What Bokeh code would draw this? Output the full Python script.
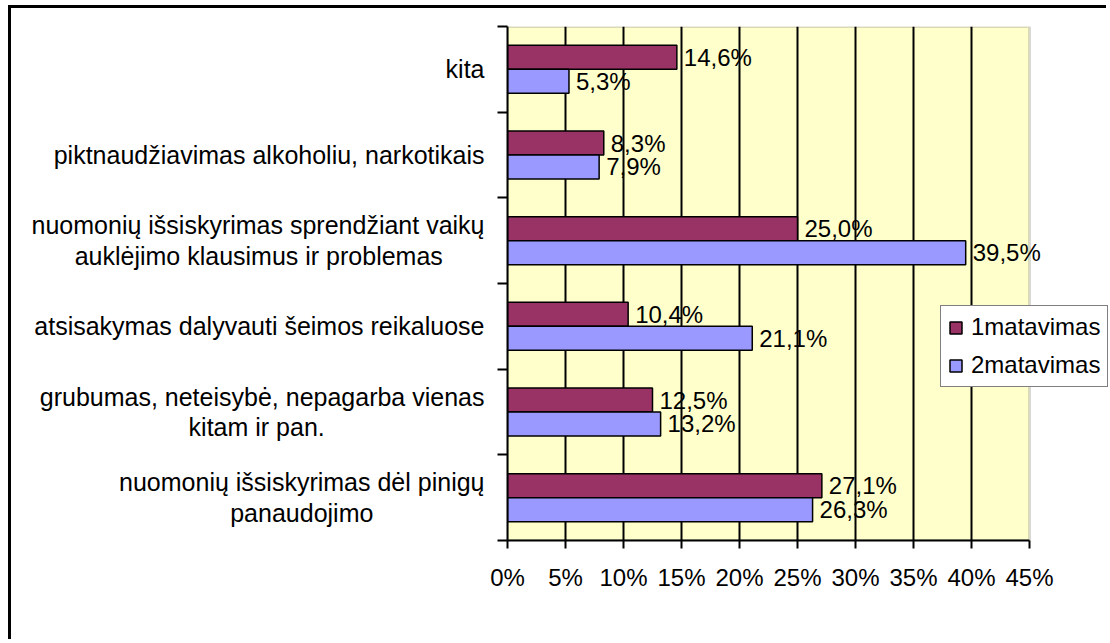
from bokeh.plotting import figure
from bokeh.models import (Range1d, FixedTicker, ColumnDataSource, LabelSet,
                          Legend, LegendItem, LinearAxis, BoxAnnotation)
from bokeh.core.properties import value
from bokeh.embed import file_html
from bokeh.resources import INLINE

# ---- data (top to bottom as in the chart) ----
categories = [
    ["kita"],
    ["piktnaudžiavimas alkoholiu, narkotikais"],
    ["nuomonių išsiskyrimas sprendžiant vaikų", "auklėjimo klausimus ir problemas"],
    ["atsisakymas dalyvauti šeimos reikaluose"],
    ["grubumas, neteisybė, nepagarba vienas", "kitam ir pan."],
    ["nuomonių išsiskyrimas dėl pinigų", "panaudojimo"],
]
series_names = ["1matavimas", "2matavimas"]
m1 = [14.6, 8.3, 25.0, 10.4, 12.5, 27.1]
m2 = [5.3, 7.9, 39.5, 21.1, 13.2, 26.3]
x_ticks = [0, 5, 10, 15, 20, 25, 30, 35, 40, 45]
x_tick_labels = ["0%", "5%", "10%", "15%", "20%", "25%", "30%", "35%", "40%", "45%"]

# ---- style / layout ----
FONT = "Liberation Sans"
FS = "24px"
CAT_FS = "25px"
C1 = "#993366"
C2 = "#9999FF"
OX, OY = 11, 8              # figure origin on the page (margin + border)
W, H = 1098, 634
FL = 507 - OX               # plot area left
FT = 26 - OY                # plot area top
PR = 1029 - OX              # plot area right (45 %)
PB = 540 - OY               # plot area bottom
FB = H - PB
x_max = x_ticks[-1]
px_per_unit = (PR - FL) / x_max
x_end = (W - FL) / px_per_unit
n = len(categories)
bar_h = 0.28

# second lines of wrapped labels are centred under the first line:
# pad them on the right with no-break spaces (count per label)
second_line_pad = [0, 0, 6, 0, 23, 16]
NBSP = "\u00a0"
cat_text = []
for lines, pad in zip(categories, second_line_pad):
    if len(lines) == 1:
        cat_text.append(lines[0])
    else:
        cat_text.append(lines[0] + "\n" + lines[1] + NBSP * pad)

ypos = [n - i - 0.5 for i in range(n)]
y1 = [y + bar_h / 2 for y in ypos]
y2 = [y - bar_h / 2 for y in ypos]

fmt = lambda v: ("%.1f" % v).replace(".", ",") + "%"
src1 = ColumnDataSource(dict(y=y1, v=m1, t=[fmt(v) for v in m1]))
src2 = ColumnDataSource(dict(y=y2, v=m2, t=[fmt(v) for v in m2]))

p = figure(width=W, height=H, output_backend="svg", toolbar_location=None,
           x_range=Range1d(0, x_end), y_range=Range1d(0, n),
           min_border_left=FL, min_border_top=FT, min_border_right=0,
           min_border_bottom=FB)
p.styles = {"margin-left": "8px", "margin-top": "5px",
            "border-left": "3px solid #000", "border-top": "3px solid #000"}
p.background_fill_color = "white"
p.border_fill_color = "white"
p.outline_line_color = None

# yellow plot area with gray border
p.add_layout(BoxAnnotation(left=0, right=x_max, fill_color="#FFFFCC", fill_alpha=1,
                           line_color="#808080", line_width=3, level="image"))

p.xgrid.ticker = FixedTicker(ticks=x_ticks[1:-1])
p.xgrid.grid_line_color = "black"
p.xgrid.grid_line_width = 2
p.ygrid.grid_line_color = None

r1 = p.hbar(y="y", right="v", left=0, height=bar_h, source=src1,
            fill_color=C1, line_color="black", line_width=1.5)
r2 = p.hbar(y="y", right="v", left=0, height=bar_h, source=src2,
            fill_color=C2, line_color="black", line_width=1.5)

for src in (src1, src2):
    p.add_layout(LabelSet(x="v", y="y", text="t", source=src, x_offset=7,
                          text_baseline="middle", text_align="left",
                          text_font=value(FONT), text_font_size=value(FS),
                          text_color="black"))

# x axis
xa = p.xaxis[0]
xa.ticker = FixedTicker(ticks=x_ticks)
xa.bounds = (0, x_max)
xa.major_label_overrides = {t: l for t, l in zip(x_ticks, x_tick_labels)}
xa.minor_tick_line_color = None
xa.major_tick_in = 0
xa.major_tick_out = 8
xa.major_tick_line_width = 2
xa.axis_line_width = 2
xa.axis_line_color = "black"
xa.major_label_text_font = FONT
xa.major_label_text_font_size = FS
xa.major_label_text_color = "black"
xa.major_label_standoff = 15

# y axis (ticks at category boundaries, no labels)
ya = p.yaxis[0]
ya.ticker = FixedTicker(ticks=list(range(n + 1)))
ya.major_label_text_font_size = "0px"
ya.major_label_text_color = None
ya.major_label_standoff = 0
ya.minor_tick_line_color = None
ya.major_tick_in = 0
ya.major_tick_out = 10
ya.major_tick_line_width = 2
ya.axis_line_width = 2
ya.axis_line_color = "black"

# category labels axis
ca = LinearAxis(ticker=FixedTicker(ticks=ypos),
                major_label_overrides={y: c for y, c in zip(ypos, cat_text)})
ca.axis_line_color = None
ca.major_tick_line_color = None
ca.minor_tick_line_color = None
ca.major_tick_in = 0
ca.major_tick_out = 0
ca.major_label_standoff = 13
ca.major_label_text_font = FONT
ca.major_label_text_font_size = CAT_FS
ca.major_label_text_color = "black"
ca.major_label_text_line_height = 1.1
p.add_layout(ca, "left")

legend = Legend(items=[LegendItem(label=series_names[0], renderers=[r1]),
                       LegendItem(label=series_names[1], renderers=[r2])],
                location=(433, 153), orientation="vertical")
legend.label_text_font = FONT
legend.label_text_font_size = FS
legend.label_text_color = "black"
legend.glyph_width = 15
legend.glyph_height = 15
legend.label_standoff = 8
legend.padding = 7
legend.spacing = 10
legend.margin = 0
legend.border_line_color = "black"
legend.border_line_width = 1.5
legend.background_fill_color = "white"
legend.background_fill_alpha = 1
p.add_layout(legend, "center")

open("out.html", "w").write(file_html(p, INLINE))
